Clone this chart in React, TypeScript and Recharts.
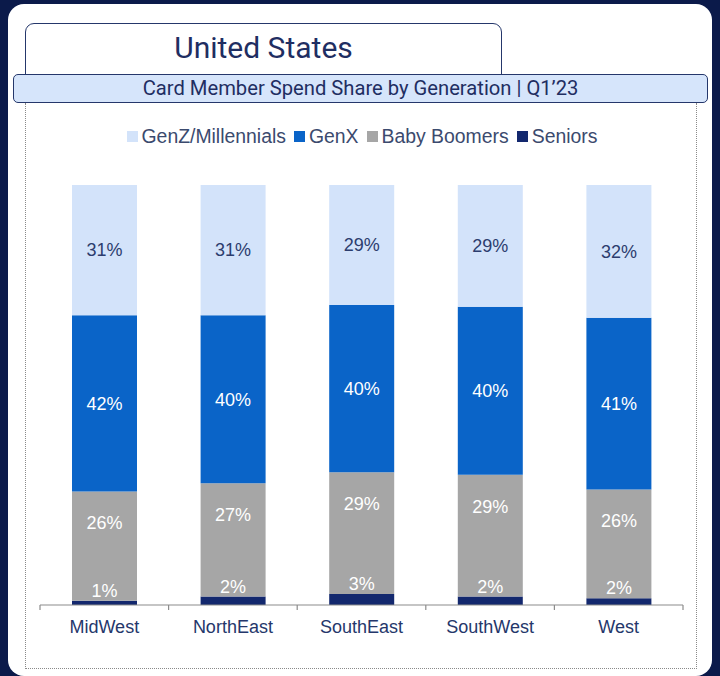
import React from 'react';
import { BarChart, Bar, XAxis, YAxis, LabelList } from 'recharts';

const categories = ['MidWest', 'NorthEast', 'SouthEast', 'SouthWest', 'West'];
const seniors = [1, 2, 2.6, 2, 1.6];
const babyBoomers = [26, 27, 29, 29, 25.9];
const genX = [42, 40, 39.8, 40, 40.9];
const genZMillennials = [31, 31, 28.6, 29, 31.6];

const seriesNames = ['GenZ/Millennials', 'GenX', 'Baby Boomers', 'Seniors'];
const seriesColors = ['#d3e3fa', '#0a64c8', '#a6a6a6', '#13286e'];

const data = categories.map((c, i) => ({
  name: c,
  seniors: seniors[i],
  boomers: babyBoomers[i],
  genx: genX[i],
  genz: genZMillennials[i],
}));

const W = 720;
const H = 676;
const M = { top: 185, left: 40, right: 37, bottom: 41 };
const BAND = (W - M.left - M.right) / categories.length;
const FONT = '"Liberation Sans", Arial, sans-serif';
const NAVY = '#25376b';

const fmt = (v: any) => `${Math.round(Number(v))}%`;

const Tick = (props: any) => {
  const { x, y, payload, index } = props;
  return (
    <g>
      <line x1={x - BAND / 2} y1={y} x2={x - BAND / 2} y2={y + 5} stroke="#8c8c8c" strokeWidth={1.2} />
      {index === categories.length - 1 && (
        <line x1={x + BAND / 2} y1={y} x2={x + BAND / 2} y2={y + 5} stroke="#8c8c8c" strokeWidth={1.2} />
      )}
      <text x={x} y={y + 28} textAnchor="middle" fontFamily={FONT} fontSize={18} fill={NAVY}>
        {payload.value}
      </text>
    </g>
  );
};

export default function App() {
  return (
    <div style={{ position: 'absolute', left: 0, top: 0, width: W, height: H, background: '#0b1a4a', overflow: 'hidden' }}>
      <div style={{ position: 'absolute', left: 8, top: 4, width: 704, height: 672, background: '#fff', borderRadius: 16 }} />
      <div
        style={{
          position: 'absolute', left: 25, top: 103, width: 670, height: 565,
          borderLeft: '1px dotted #8a8a8a', borderRight: '1px dotted #8a8a8a', borderBottom: '1px dotted #8a8a8a',
        }}
      />
      <div
        style={{
          position: 'absolute', left: 25, top: 23, width: 477, height: 60, background: '#fff',
          border: `1.5px solid ${NAVY}`, borderRadius: '9px 9px 0 0', boxSizing: 'border-box',
          textAlign: 'center', fontFamily: 'Roboto, sans-serif', fontSize: 30, color: '#1f2e62', lineHeight: '48px',
        }}
      >
        United States
      </div>
      <div
        style={{
          position: 'absolute', left: 13, top: 74, width: 695, height: 29, background: '#d6e5fb',
          border: `1.5px solid ${NAVY}`, borderRadius: 5, boxSizing: 'border-box',
          textAlign: 'center', fontFamily: 'Roboto, sans-serif', fontSize: 20.2, color: '#1f2e62', lineHeight: '27px',
        }}
      >
        Card Member Spend Share by Generation | Q1’23
      </div>
      <div
        style={{
          position: 'absolute', left: 0, top: 124, width: W, height: 24, display: 'flex', justifyContent: 'center',
          alignItems: 'center', fontFamily: FONT, fontSize: 19.4, color: '#3b4a6e', paddingLeft: 12, boxSizing: 'border-box',
        }}
      >
        {seriesNames.map((n, i) => (
          <span key={n} style={{ display: 'flex', alignItems: 'center', marginRight: 8 }}>
            <span style={{ width: 11, height: 11, background: seriesColors[i], display: 'inline-block', marginRight: 4 }} />
            {n}
          </span>
        ))}
      </div>
      <div style={{ position: 'absolute', left: 0, top: 0 }}>
        <BarChart width={W} height={H} data={data} margin={M} barSize={65}>
          <YAxis hide domain={[0, 100]} />
          <XAxis
            dataKey="name"
            axisLine={{ stroke: '#8c8c8c', strokeWidth: 1.2 }}
            tickLine={false}
            tickSize={0}
            tickMargin={0}
            height={30}
            interval={0}
            tick={<Tick />}
          />
          <Bar dataKey="seniors" stackId="a" fill={seriesColors[3]} isAnimationActive={false}>
            <LabelList dataKey="seniors" position="top" offset={4} formatter={fmt} fill="#ffffff" fontFamily={FONT} fontSize={18} />
          </Bar>
          <Bar dataKey="boomers" stackId="a" fill={seriesColors[2]} isAnimationActive={false}>
            <LabelList dataKey="boomers" position="insideTop" offset={25} formatter={fmt} fill="#ffffff" fontFamily={FONT} fontSize={18} />
          </Bar>
          <Bar dataKey="genx" stackId="a" fill={seriesColors[1]} isAnimationActive={false}>
            <LabelList dataKey="genx" position="center" formatter={fmt} fill="#ffffff" fontFamily={FONT} fontSize={18} />
          </Bar>
          <Bar dataKey="genz" stackId="a" fill={seriesColors[0]} isAnimationActive={false}>
            <LabelList dataKey="genz" position="center" formatter={fmt} fill="#2c3d6e" fontFamily={FONT} fontSize={18} />
          </Bar>
        </BarChart>
      </div>
    </div>
  );
}
